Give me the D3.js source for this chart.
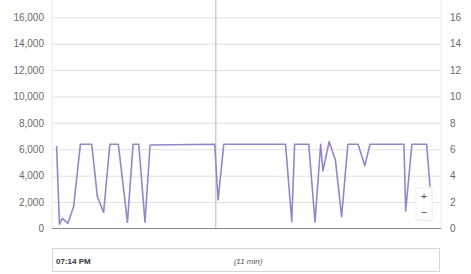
<!DOCTYPE html>
<html>
<head>
<meta charset="utf-8">
<script src="https://cdn.jsdelivr.net/npm/d3@7.9.0/dist/d3.min.js"></script>
<style>
  html, body { margin: 0; padding: 0; background: #fff; }
  svg { display: block; font-family: Arial, "Liberation Sans", sans-serif; }
  .grid line { stroke: #e1e1e1; }
  .grid .domain { display: none; }
  .axis .domain, .axis line { display: none; }
  .axis text { fill: #6a6a6a; font-size: 10px; }
</style>
</head>
<body>
<svg id="chart" width="471" height="274"></svg>
<script>
// seconds after 07:14 PM and the value at that moment
const seconds = [0, 5, 10, 20, 30, 42, 62, 72, 83, 94, 109, 125, 135, 145, 156, 165,
  279, 285, 295, 404, 415, 420, 445, 456, 466, 470, 481, 492, 503, 514, 532, 544,
  553, 613, 616, 627, 653, 659];
const values = [6250, 320, 770, 390, 1650, 6380, 6380, 2400, 1230, 6380, 6380, 470, 6380, 6380, 470, 6330,
  6380, 2160, 6380, 6380, 520, 6380, 6380, 470, 6380, 4360, 6580, 5190, 900, 6380, 6380, 4760,
  6380, 6380, 1330, 6380, 6380, 3170];
const leftTicks = [0, 2000, 4000, 6000, 8000, 10000, 12000, 14000, 16000];
const rightTicks = [0, 2, 4, 6, 8, 10, 12, 14, 16];
const markerSecond = 281;
const startLabel = '07:14 PM';
const spanLabel = '(11 min)';

const start = new Date(2020, 0, 1, 19, 14, 0);
const data = seconds.map((s, i) => ({ t: new Date(+start + s * 1000), v: values[i] }));

const svg = d3.select('#chart');
const plot = { left: 52, right: 441, top: 0, bottom: 228.5 };

const x = d3.scaleTime()
  .domain([start, new Date(+start + 660 * 1000)])
  .range([56.6, 430.6]);
const y = d3.scaleLinear().domain([0, 16000]).range([228.5, 17.3]);
const y2 = d3.scaleLinear().domain([0, 16]).range([228.5, 17.3]);

// gridlines
svg.append('g')
  .attr('class', 'grid')
  .attr('transform', `translate(${plot.left},0)`)
  .call(d3.axisLeft(y).tickValues(leftTicks.slice(1)).tickFormat('').tickSize(-(plot.right - plot.left)));

// plot frame sides
svg.append('line')
  .attr('x1', plot.left).attr('x2', plot.left)
  .attr('y1', plot.top).attr('y2', plot.bottom)
  .attr('stroke', '#ececec');
svg.append('line')
  .attr('x1', plot.right).attr('x2', plot.right)
  .attr('y1', plot.top).attr('y2', plot.bottom)
  .attr('stroke', '#ececec');

// marker line
svg.append('line')
  .attr('x1', x(new Date(+start + markerSecond * 1000)))
  .attr('x2', x(new Date(+start + markerSecond * 1000)))
  .attr('y1', plot.top).attr('y2', plot.bottom)
  .attr('stroke', '#b5b5b5');

// baseline
svg.append('line')
  .attr('x1', plot.left).attr('x2', plot.right)
  .attr('y1', y(0)).attr('y2', y(0))
  .attr('stroke', '#8a8a8a').attr('stroke-width', 1.2);

// axes labels
svg.append('g')
  .attr('class', 'axis')
  .attr('transform', 'translate(44,0)')
  .call(d3.axisLeft(y).tickValues(leftTicks).tickSize(0).tickPadding(0).tickFormat(d3.format(',')));

svg.append('g')
  .attr('class', 'axis')
  .attr('transform', 'translate(450,0)')
  .call(d3.axisRight(y2).tickValues(rightTicks).tickSize(0).tickPadding(0));

// series
svg.append('path')
  .datum(data)
  .attr('fill', 'none')
  .attr('stroke', '#9586c9')
  .attr('stroke-width', 1.6)
  .attr('stroke-linejoin', 'round')
  .attr('d', d3.line().x(d => x(d.t)).y(d => y(d.v)));

// zoom buttons
const zoom = svg.append('g').attr('transform', 'translate(416,188)');
zoom.append('rect').attr('x', 0.5).attr('y', 1).attr('width', 16).attr('height', 32)
  .attr('fill', '#e9e9e9');
zoom.append('rect').attr('width', 16).attr('height', 32)
  .attr('fill', '#fff').attr('stroke', '#f0f0f0');
zoom.append('text').attr('x', 8).attr('y', 12).attr('text-anchor', 'middle')
  .attr('font-size', 11).attr('fill', '#555').text('+');
zoom.append('text').attr('x', 8).attr('y', 28).attr('text-anchor', 'middle')
  .attr('font-size', 11).attr('fill', '#555').text('\u2212');

// range box
svg.append('rect')
  .attr('x', 52.5).attr('y', 248.5).attr('width', 387).attr('height', 23)
  .attr('fill', '#fff').attr('stroke', '#d6d6d6');
svg.append('text')
  .attr('x', 56).attr('y', 263.5)
  .attr('font-size', 8).attr('font-weight', 'bold').attr('fill', '#333')
  .text(startLabel);
svg.append('text')
  .attr('x', 248).attr('y', 263.5).attr('text-anchor', 'middle')
  .attr('font-size', 8).attr('font-style', 'italic').attr('fill', '#555')
  .text(spanLabel);
</script>
</body>
</html>
